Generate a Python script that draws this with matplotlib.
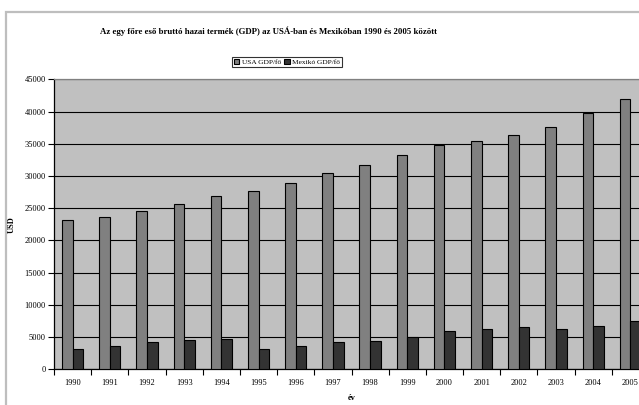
import numpy as np
import matplotlib
matplotlib.use("Agg")
import matplotlib.pyplot as plt
from matplotlib.patches import Rectangle

# GDP per capita (USD), 1990-2005
evek = ["1990", "1991", "1992", "1993", "1994", "1995", "1996", "1997",
        "1998", "1999", "2000", "2001", "2002", "2003", "2004", "2005"]
usa_gdp = [23120, 23680, 24610, 25600, 26840, 27720, 28960, 30410,
           31650, 33200, 34760, 35480, 36310, 37650, 39770, 41900]
mexiko_gdp = [3100, 3620, 4190, 4550, 4650, 3100, 3570, 4190,
              4390, 4960, 5900, 6300, 6520, 6300, 6720, 7450]

plt.rcParams["font.family"] = ["Liberation Serif", "DejaVu Serif"]

fig = plt.figure(figsize=(6.39, 4.05), dpi=100)

# szürke keret a diagramterület körül (jobb és alsó része kilóg a képből)
fig.patches.append(Rectangle((6 / 639, -0.1), 1.2, 1 - 12 / 405 + 0.1,
                             transform=fig.transFigure, fill=False,
                             edgecolor="#BEBEBE", linewidth=1.6, zorder=0))

ax = fig.add_axes([54 / 639, 35.7 / 405, 595 / 639, 290 / 405])
ax.set_facecolor("#C0C0C0")

x = np.arange(len(evek))
w = 1 / 3.5
ax.bar(x - w / 2, usa_gdp, w, color="#808080", edgecolor="black",
       linewidth=0.8, label="USA GDP/fő", zorder=3)
ax.bar(x + w / 2, mexiko_gdp, w, color="#333333", edgecolor="black",
       linewidth=0.8, label="Mexikó GDP/fő", zorder=3)

ax.set_xlim(-0.5, len(evek) - 0.5)
ax.set_ylim(0, 45000)
ax.set_yticks(np.arange(0, 45001, 5000))
ax.yaxis.grid(True, color="black", linewidth=0.8, zorder=1)
ax.set_axisbelow(True)

# osztásjelek a kategóriák határán, feliratok a közepükön
ax.set_xticks(np.arange(-0.5, len(evek)), labels=[])
ax.set_xticks(x, labels=evek, minor=True)
ax.tick_params(axis="x", which="major", length=4, width=0.8, direction="out")
ax.tick_params(axis="x", which="minor", length=0, pad=7, labelsize=6)
ax.tick_params(axis="y", length=4, width=0.8, labelsize=6, pad=2)

for side in ("top", "right"):
    ax.spines[side].set_color("#808080")
    ax.spines[side].set_linewidth(0.9)
for side in ("left", "bottom"):
    ax.spines[side].set_color("black")
    ax.spines[side].set_linewidth(0.9)

ax.set_ylabel("USD", fontsize=6, fontweight="bold", labelpad=6)
ax.set_xlabel("év", fontsize=6, fontweight="bold", labelpad=5)

fig.text(268 / 639, 1 - 31 / 405,
         "Az egy főre eső bruttó hazai termék (GDP) az USÁ-ban és Mexikóban 1990 és 2005 között",
         ha="center", va="center", fontsize=6.3, fontweight="bold")

leg = fig.legend(loc="center", bbox_to_anchor=(287 / 639, 1 - 62 / 405),
                 ncol=2, fontsize=5.3, frameon=True, fancybox=False,
                 handlelength=0.7, handleheight=0.7, handletextpad=0.3,
                 columnspacing=0.5, borderpad=0.3, borderaxespad=0)
leg.get_frame().set_edgecolor("black")
leg.get_frame().set_linewidth(0.8)

fig.savefig("out.png", dpi=100)
